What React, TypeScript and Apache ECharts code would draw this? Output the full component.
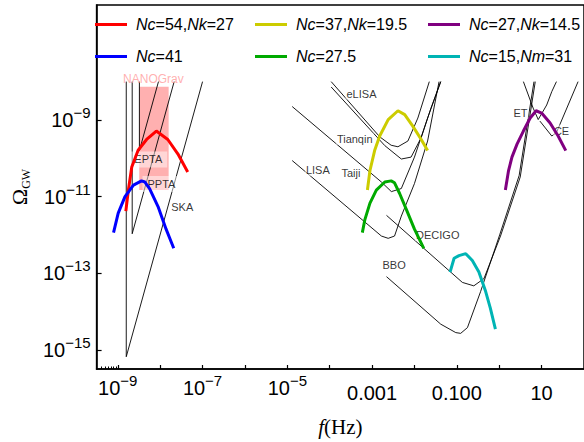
import React, { useEffect, useRef } from 'react';
import * as echarts from 'echarts';

// All values are log10(f / Hz) and log10(Omega_GW)
const X_MIN = -9.5;
const X_MAX = 2;
const Y_MIN = -15.5;
const Y_MAX = -6;

const xTickExponents = [-9, -8, -7, -6, -5, -4, -3, -2, -1, 0, 1];
const xLabelExponents = [-9, -7, -5, -3, -1, 1];
const xLabelBase = ['10', '10', '10', '0.001', '0.100', '10'];
const xLabelSup = ['−9', '−7', '−5', '', '', ''];
const xMinorTickValues = [-9.398, -9.301, -9.222, -9.155, -9.097, -9.046];

const yLabelExponents = [-15, -13, -11, -9];
const yLabelBase = ['10', '10', '10', '10'];
const yLabelSup = ['−15', '−13', '−11', '−9'];

// Model spectra (coloured)
const curveNc54 = [[-8.81, -11.38], [-8.75, -10.83], [-8.67, -10.23], [-8.52, -9.79], [-8.32, -9.51], [-8.09, -9.29], [-7.82, -9.51], [-7.58, -9.89], [-7.35, -10.36]];
const curveNc41 = [[-9.10, -11.94], [-8.99, -11.43], [-8.83, -11.0], [-8.63, -10.70], [-8.44, -10.59], [-8.36, -10.62], [-8.25, -10.79], [-8.05, -11.26], [-7.86, -11.85], [-7.68, -12.35]];
const curveNc37 = [[-3.11, -10.83], [-3.05, -10.32], [-2.94, -9.80], [-2.82, -9.42], [-2.62, -8.99], [-2.39, -8.76], [-2.23, -8.86], [-2.04, -9.16], [-1.84, -9.51], [-1.69, -9.80]];
const curveNc275 = [[-3.23, -11.94], [-3.17, -11.60], [-3.05, -11.17], [-2.90, -10.83], [-2.70, -10.62], [-2.55, -10.59], [-2.47, -10.64], [-2.35, -10.92], [-2.19, -11.34], [-2.00, -11.85], [-1.78, -12.35]];
const curveNc27 = [[0.145, -10.83], [0.22, -10.32], [0.30, -9.97], [0.42, -9.63], [0.57, -9.29], [0.73, -8.95], [0.87, -8.76], [1.00, -8.82], [1.20, -9.08], [1.39, -9.42], [1.57, -9.80]];
const curveNc15 = [[-1.16, -12.97], [-1.065, -12.61], [-0.95, -12.54], [-0.79, -12.49], [-0.635, -12.67], [-0.48, -12.97], [-0.32, -13.48], [-0.21, -13.91], [-0.09, -14.46]];

// Detector sensitivity curves (black)
const skaCurve = [[-8.80, -8], [-8.80, -15.18], [-7.0, -8]];
const eptaCurve = [[-8.66, -8], [-8.66, -11.97], [-7.67, -8]];
const pptaCurve = [[-8.49, -8], [-8.49, -9.80], [-8.04, -8]];
const elisaCurve = [[-3.965, -8.0], [-2.82, -9.44], [-2.55, -9.66], [-2.39, -9.70], [-2.155, -9.55], [-1.92, -8.95], [-1.65, -8.0]];
const tianqinCurve = [[-3.965, -8.14], [-2.70, -9.67], [-2.31, -10.02], [-2.08, -9.97], [-1.84, -9.46], [-1.61, -8.69], [-1.38, -8.0]];
const taijiCurve = [[-4.885, -8.65], [-2.78, -10.62], [-2.545, -10.87], [-2.31, -10.79], [-2.0, -9.97], [-1.69, -8.95], [-1.38, -8.0]];
const lisaCurve = [[-4.885, -10.06], [-2.78, -12.03], [-2.62, -12.09], [-2.47, -12.03], [-2.31, -11.51], [-2.0, -10.66], [-1.69, -9.55], [-1.42, -8.0]];
const decigoCurve = [[-2.66, -11.49], [-0.87, -13.24], [-0.60, -13.33], [-0.36, -13.14], [0.03, -12.03], [0.495, -10.49], [0.85, -8.0]];
const bboCurve = [[-2.66, -13.09], [-1.38, -14.33], [-1.025, -14.55], [-0.91, -14.57], [-0.75, -14.42], [-0.44, -13.48], [0.01, -12.0], [0.47, -10.45], [0.82, -8.0]];
const etCurve = [[0.57, -8.0], [0.80, -8.69], [0.92, -8.99], [1.12, -8.61], [1.24, -8.26], [1.35, -8.0]];
const ceCurve = [[0.96, -9.03], [1.24, -9.42], [1.35, -9.33], [1.86, -8.0]];

// NANOGrav signal region [fMin, fMax, OmegaMin, OmegaMax]
const nanogravBox = [-8.494, -7.80, -10.83, -8.136];

// Annotation labels
const labelNames = ['NANOGrav', 'EPTA', 'PPTA', 'SKA', 'eLISA', 'Tianqin', 'Taiji', 'LISA', 'DECIGO', 'BBO', 'ET', 'CE'];
const labelX = [-8.16, -8.28, -7.97, -7.48, -3.25, -3.41, -3.50, -4.28, -1.45, -2.48, 0.50, 1.47];
const labelY = [-7.92, -10.03, -10.67, -11.26, -8.31, -9.49, -10.38, -10.31, -12.0, -12.79, -8.82, -9.28];

const legendNames = ['Nc=54,Nk=27', 'Nc=37,Nk=19.5', 'Nc=27,Nk=14.5', 'Nc=41', 'Nc=27.5', 'Nc=15,Nm=31'];
const legendColors = ['#ff0000', '#cccc00', '#800080', '#0000ff', '#00aa00', '#00b4b4'];
const legendData = [curveNc54, curveNc37, curveNc27, curveNc41, curveNc275, curveNc15];

const blackCurves = [skaCurve, eptaCurve, pptaCurve, elisaCurve, tianqinCurve, taijiCurve, lisaCurve, decigoCurve, bboCurve, etCurve, ceCurve];

const SANS = 'Liberation Sans, Arial, sans-serif';
const SERIF = 'Liberation Serif, Times New Roman, serif';

const supRich = {
  b: { fontFamily: SANS, fontSize: 20, lineHeight: 30, color: '#000' },
  p: { fontFamily: SANS, fontSize: 20, lineHeight: 40, color: '#000' },
  s: { fontFamily: SANS, fontSize: 15, lineHeight: 12, verticalAlign: 'top', color: '#000' },
};

function App() {
  const ref = useRef<HTMLDivElement>(null);
  useEffect(() => {
    if (!ref.current) return;
    const chart = echarts.init(ref.current, null, { renderer: 'svg' });

    const xFmt = (v: number) => {
      const i = xLabelExponents.indexOf(Math.round(v));
      if (i < 0) return '';
      return xLabelSup[i] ? `{b|${xLabelBase[i]}}{s|${xLabelSup[i]}}` : `{p|${xLabelBase[i]}}`;
    };
    const yFmt = (v: number) => {
      const i = yLabelExponents.indexOf(Math.round(v));
      if (i < 0) return '';
      return `{b|${yLabelBase[i]}}{s|${yLabelSup[i]}}`;
    };

    const cols = [95, 255, 428];
    const rows = [16.5, 48.5];
    const legends = legendNames.map((name, i) => ({
      data: [name],
      left: cols[i % 3],
      top: rows[Math.floor(i / 3)],
      padding: 0,
      icon: 'rect',
      itemWidth: 32,
      itemHeight: 3,
      selectedMode: false,
      formatter: (n: string) => n.replace(/N([a-z])/g, '{i|N$1}'),
      textStyle: {
        fontFamily: SANS,
        fontSize: 16,
        color: '#000',
        padding: [0, 0, 0, 4],
        rich: { i: { fontFamily: SANS, fontSize: 16, fontStyle: 'italic', color: '#000' } },
      },
    }));

    const series: any[] = [];
    series.push({
      type: 'line',
      name: 'nanogravRegion',
      data: [],
      z: 1,
      silent: true,
      markArea: {
        silent: true,
        itemStyle: { color: '#ffb0b0' },
        data: [[{ coord: [nanogravBox[0], nanogravBox[3]] }, { coord: [nanogravBox[1], nanogravBox[2]] }]],
      },
    });
    blackCurves.forEach((c, i) => {
      series.push({
        type: 'line',
        name: 'det' + i,
        data: c,
        symbol: 'none',
        silent: true,
        z: 2,
        lineStyle: { color: '#000', width: 0.9 },
      });
    });
    series.push({
      type: 'scatter',
      name: 'labels',
      z: 3,
      silent: true,
      symbolSize: 1,
      itemStyle: { color: 'rgba(0,0,0,0)' },
      data: labelNames.map((n, i) => ({
        name: n,
        value: [labelX[i], labelY[i]],
        label: n === 'NANOGrav'
          ? { color: '#ff9c9c', backgroundColor: 'transparent', fontSize: 12 }
          : (n === 'EPTA' || n === 'PPTA')
            ? { backgroundColor: 'rgba(255,255,255,0.6)', padding: [3, 5, 2, 5] }
            : { backgroundColor: 'rgba(255,255,255,0.6)', padding: [1, 1, 0, 1] },
      })),
      label: {
        show: true,
        position: 'inside',
        formatter: (p: any) => p.name,
        fontFamily: SANS,
        fontSize: 11,
        color: '#000',
      },
    });
    legendData.forEach((d, i) => {
      series.push({
        type: 'line',
        name: legendNames[i],
        data: d,
        symbol: 'none',
        z: 5,
        color: legendColors[i],
        lineStyle: { color: legendColors[i], width: 3 },
      });
    });

    chart.setOption({
      animation: false,
      backgroundColor: '#fff',
      legend: legends,
      grid: {
        left: 92.7, top: 5, width: 492.3, height: 369,
        show: true, borderColor: '#000', borderWidth: 1.5,
      },
      xAxis: [
        {
          type: 'value', min: X_MIN, max: X_MAX,
          axisLine: { onZero: false, lineStyle: { color: '#000', width: 1.5 } },
          splitLine: { show: false },
          axisTick: { inside: true, length: 4, customValues: xTickExponents, lineStyle: { color: '#000', width: 1.2 } },
          axisLabel: { customValues: xLabelExponents, formatter: xFmt, rich: supRich, margin: 4 },
          name: '{i|f}{n|(Hz)}',
          nameLocation: 'middle',
          nameGap: 47,
          nameTextStyle: {
            rich: {
              i: { fontFamily: SERIF, fontSize: 21, fontStyle: 'italic', color: '#000' },
              n: { fontFamily: SERIF, fontSize: 21, color: '#000' },
            },
          },
        },
        {
          type: 'value', min: X_MIN, max: X_MAX, position: 'bottom',
          axisLine: { show: false },
          splitLine: { show: false },
          axisTick: { inside: true, length: 2.5, customValues: xMinorTickValues, lineStyle: { color: '#000', width: 1 } },
          axisLabel: { show: false },
        },
      ],
      yAxis: {
        type: 'value', min: Y_MIN, max: Y_MAX,
        axisLine: { onZero: false, lineStyle: { color: '#000', width: 1.5 } },
        splitLine: { show: false },
        axisTick: { inside: true, length: 5, customValues: yLabelExponents, lineStyle: { color: '#000', width: 1.2 } },
        axisLabel: { customValues: yLabelExponents, formatter: yFmt, rich: supRich, margin: 6 },
        name: '{o|Ω}{g|GW}',
        nameLocation: 'middle',
        nameRotate: 90,
        nameGap: 62,
        nameTextStyle: {
          rich: {
            o: { fontFamily: SERIF, fontSize: 22, lineHeight: 26, color: '#000' },
            g: { fontFamily: SERIF, fontSize: 12, lineHeight: 12, verticalAlign: 'bottom', color: '#000' },
          },
        },
      },
      series,
    });
    return () => chart.dispose();
  }, []);
  return <div ref={ref} style={{ position: 'fixed', left: 0, top: 0, width: 584, height: 442 }} />;
}

export default App;
